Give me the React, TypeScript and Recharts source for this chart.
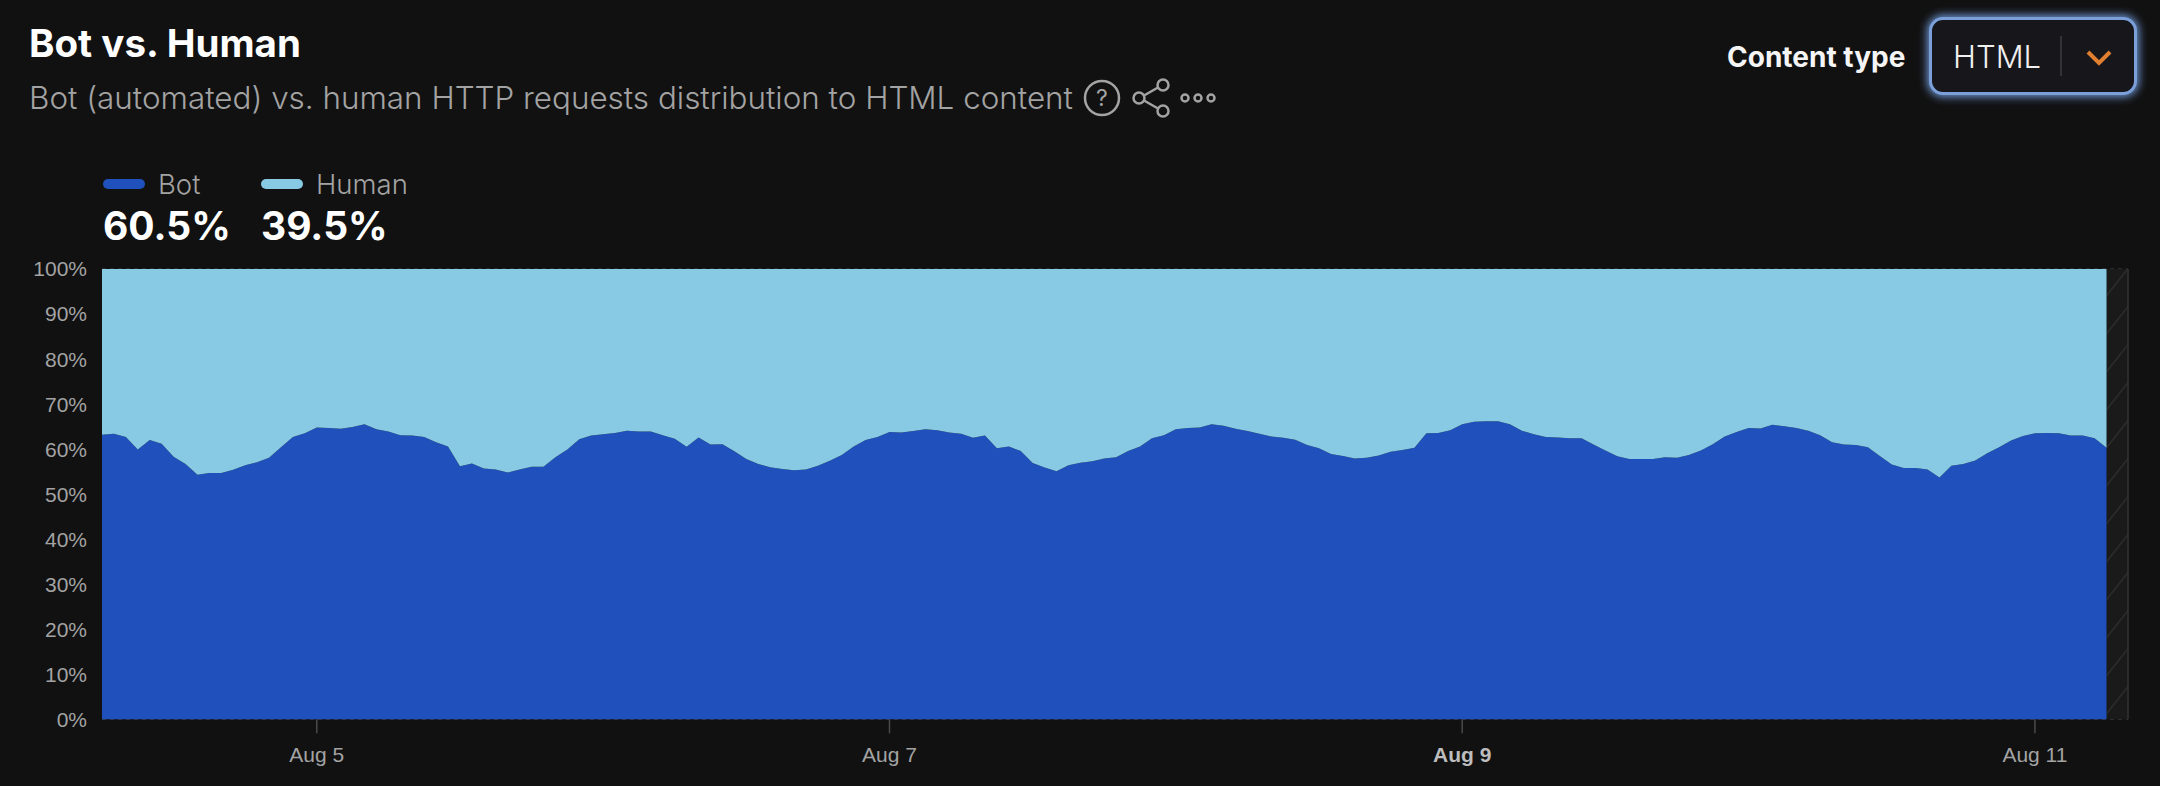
import { AreaChart, Area, XAxis, YAxis, CartesianGrid, ReferenceArea, ReferenceLine } from "recharts";

// hourly samples, first one is Aug 4 06:00
const botValues = [
  63.2, 63.4, 62.7, 59.9, 62.0, 61.2, 58.3, 56.7, 54.3, 54.7,
  54.7, 55.4, 56.4, 57.1, 58.1, 60.4, 62.7, 63.5, 64.8, 64.7,
  64.5, 64.9, 65.5, 64.4, 63.9, 63.1, 63.0, 62.7, 61.5, 60.6,
  56.2, 56.8, 55.7, 55.5, 54.8, 55.5, 56.1, 56.1, 58.2, 59.9,
  62.2, 63.0, 63.3, 63.6, 64.1, 63.9, 63.9, 63.1, 62.3, 60.5,
  62.6, 61.0, 61.1, 59.5, 57.8, 56.7, 56.0, 55.6, 55.3, 55.5,
  56.3, 57.4, 58.7, 60.6, 62.0, 62.7, 63.8, 63.7, 64.0, 64.4,
  64.2, 63.7, 63.4, 62.5, 63.0, 60.2, 60.6, 59.6, 56.9, 55.9,
  55.1, 56.4, 57.0, 57.3, 57.9, 58.2, 59.6, 60.6, 62.4, 63.1,
  64.4, 64.7, 64.8, 65.5, 65.2, 64.5, 64.0, 63.4, 62.8, 62.5,
  62.1, 60.9, 60.2, 58.9, 58.5, 57.9, 58.1, 58.6, 59.4, 59.8,
  60.3, 63.5, 63.6, 64.2, 65.5, 66.1, 66.2, 66.2, 65.5, 64.1,
  63.3, 62.7, 62.6, 62.4, 62.4, 61.0, 59.7, 58.4, 57.8, 57.8,
  57.8, 58.2, 58.1, 58.7, 59.7, 61.1, 62.8, 63.8, 64.7, 64.6,
  65.4, 65.1, 64.7, 64.1, 63.1, 61.5, 61.0, 60.9, 60.4, 58.5,
  56.6, 55.8, 55.8, 55.5, 53.7, 56.3, 56.7, 57.5, 59.1, 60.4,
  61.9, 62.9, 63.5, 63.6, 63.5, 63.0, 63.0, 62.4, 60.3,
];

const humanValues = [
  36.8, 36.6, 37.3, 40.1, 38.0, 38.8, 41.7, 43.3, 45.7, 45.3,
  45.3, 44.6, 43.6, 42.9, 41.9, 39.6, 37.3, 36.5, 35.2, 35.3,
  35.5, 35.1, 34.5, 35.6, 36.1, 36.9, 37.0, 37.3, 38.5, 39.4,
  43.8, 43.2, 44.3, 44.5, 45.2, 44.5, 43.9, 43.9, 41.8, 40.1,
  37.8, 37.0, 36.7, 36.4, 35.9, 36.1, 36.1, 36.9, 37.7, 39.5,
  37.4, 39.0, 38.9, 40.5, 42.2, 43.3, 44.0, 44.4, 44.7, 44.5,
  43.7, 42.6, 41.3, 39.4, 38.0, 37.3, 36.2, 36.3, 36.0, 35.6,
  35.8, 36.3, 36.6, 37.5, 37.0, 39.8, 39.4, 40.4, 43.1, 44.1,
  44.9, 43.6, 43.0, 42.7, 42.1, 41.8, 40.4, 39.4, 37.6, 36.9,
  35.6, 35.3, 35.2, 34.5, 34.8, 35.5, 36.0, 36.6, 37.2, 37.5,
  37.9, 39.1, 39.8, 41.1, 41.5, 42.1, 41.9, 41.4, 40.6, 40.2,
  39.7, 36.5, 36.4, 35.8, 34.5, 33.9, 33.8, 33.8, 34.5, 35.9,
  36.7, 37.3, 37.4, 37.6, 37.6, 39.0, 40.3, 41.6, 42.2, 42.2,
  42.2, 41.8, 41.9, 41.3, 40.3, 38.9, 37.2, 36.2, 35.3, 35.4,
  34.6, 34.9, 35.3, 35.9, 36.9, 38.5, 39.0, 39.1, 39.6, 41.5,
  43.4, 44.2, 44.2, 44.5, 46.3, 43.7, 43.3, 42.5, 40.9, 39.6,
  38.1, 37.1, 36.5, 36.4, 36.5, 37.0, 37.0, 37.6, 39.7,
];

const xTicks = [18, 66, 114, 162];
const xTickLabels = ["Aug 5", "Aug 7", "Aug 9", "Aug 11"];
const boldTick = 114;
const yTicks = [0, 10, 20, 30, 40, 50, 60, 70, 80, 90, 100];
const lastSample = 168;
const domainEnd = 169.8;

const chartData = botValues.map((bot, i) => ({ hour: i, bot, human: humanValues[i] }));

const FONT = "Inter, 'Noto Sans', sans-serif";
const AXIS_FONT = "'Liberation Sans', Arial, sans-serif";
const BOT = "#2050bc";
const HUMAN = "#88cae4";
const MUTED = "#a3a3a3";

const abs = (left: number, top: number, style: object = {}) => ({
  position: "absolute" as const,
  left,
  top,
  whiteSpace: "nowrap" as const,
  ...style,
});

const XTick = ({ x, y, payload }: any) => (
  <text
    x={x}
    y={y}
    textAnchor="middle"
    dominantBaseline="central"
    fontFamily={AXIS_FONT}
    fontSize={21}
    fontWeight={payload.value === boldTick ? 700 : 400}
    fill={payload.value === boldTick ? "#bdbdbd" : MUTED}
  >
    {xTickLabels[xTicks.indexOf(payload.value)]}
  </text>
);

const LegendItem = ({ left, color, name, value }: { left: number; color: string; name: string; value: string }) => (
  <>
    <div style={abs(left, 179, { width: 42, height: 10, borderRadius: 5, background: color })} />
    <div style={abs(left + 55, 167, { fontSize: 27.5, lineHeight: "34px", color: MUTED, fontWeight: 300 })}>{name}</div>
    <div style={abs(left, 203, { fontSize: 39, lineHeight: "46px", color: "#fff", fontWeight: 700 })}>{value}</div>
  </>
);

const Icons = () => (
  <svg style={abs(1080, 76)} width={140} height={44} fill="none" stroke="#a3a3a3" strokeWidth={2.5}>
    <circle cx={22} cy={22} r={17} />
    <text x={22} y={30} textAnchor="middle" fontFamily={FONT} fontSize={23} fill="#a3a3a3" stroke="none">?</text>
    <circle cx={59} cy={22} r={5.5} />
    <circle cx={83} cy={9} r={5.5} />
    <circle cx={83} cy={35} r={5.5} />
    <line x1={64} y1={19.5} x2={78} y2={11.5} />
    <line x1={64} y1={24.5} x2={78} y2={32.5} />
    <circle cx={105} cy={22} r={3.5} />
    <circle cx={118} cy={22} r={3.5} />
    <circle cx={131} cy={22} r={3.5} />
  </svg>
);

export default function App() {
  return (
    <div style={abs(0, 0, { width: 2160, height: 786, background: "#111111", overflow: "hidden", fontFamily: FONT })}>
      <div style={abs(29, 18, { fontSize: 38.5, lineHeight: "50px", fontWeight: 700, color: "#fff" })}>Bot vs. Human</div>
      <div style={abs(29, 76, { fontSize: 31.4, lineHeight: "44px", fontWeight: 300, color: MUTED })}>
        Bot (automated) vs. human HTTP requests distribution to HTML content
      </div>
      <Icons />

      <div style={abs(1727, 38, { fontSize: 28, lineHeight: "38px", fontWeight: 700, color: "#f5f5f5" })}>Content type</div>
      <div
        style={abs(1929, 17, {
          width: 208,
          height: 78,
          boxSizing: "border-box",
          borderRadius: 14,
          background: "#17171b",
          border: "3px solid #7a9fd9",
          boxShadow: "0 0 8px 2px #6f96d4",
        })}
      />
      <div style={abs(1953, 36, { fontSize: 31, lineHeight: "42px", fontWeight: 300, color: "#f0f0f0" })}>HTML</div>
      <div style={abs(2060, 36, { width: 1.5, height: 40, background: "#333" })} />
      <svg style={abs(2085, 48)} width={28} height={20} fill="none" stroke="#e07f30" strokeWidth={4}>
        <polyline points="3,4 14,15 25,4" />
      </svg>

      <LegendItem left={103} color={BOT} name="Bot" value="60.5%" />
      <LegendItem left={261} color={HUMAN} name="Human" value="39.5%" />

      <AreaChart
        style={abs(0, 0)}
        width={2160}
        height={786}
        data={chartData}
        margin={{ top: 269, right: 32, bottom: 26.7, left: 42 }}
      >
        <defs>
          <pattern id="noData" width={30} height={38} patternUnits="userSpaceOnUse">
            <rect width={30} height={38} fill="#1a1a1a" />
            <line x1={0} y1={38} x2={30} y2={0} stroke="#2b2b2b" strokeWidth={1.5} />
          </pattern>
        </defs>
        <ReferenceArea x1={lastSample} x2={domainEnd} y1={0} y2={100} fill="url(#noData)" fillOpacity={1} stroke="none" />
        <CartesianGrid horizontal vertical={false} stroke="#333333" strokeWidth={1.5} strokeDasharray="4 4" />
        <XAxis
          dataKey="hour"
          type="number"
          domain={[0, domainEnd]}
          ticks={xTicks}
          height={40}
          axisLine={false}
          tickSize={14}
          tickLine={{ stroke: "#4a4a4a", strokeWidth: 1.5 }}
          tickMargin={21}
          interval={0}
          tick={<XTick />}
        />
        <YAxis
          type="number"
          domain={[0, 100]}
          ticks={yTicks}
          width={60}
          axisLine={false}
          tickLine={false}
          tickMargin={9}
          tickFormatter={(v: number) => `${v}%`}
          tick={{ fill: MUTED, fontSize: 21, fontFamily: AXIS_FONT }}
          interval={0}
        />
        <ReferenceLine x={domainEnd} stroke="#333333" strokeWidth={1.5} />
        <Area type="linear" dataKey="bot" stackId="share" stroke="none" fill={BOT} fillOpacity={1} isAnimationActive={false} dot={false} activeDot={false} />
        <Area type="linear" dataKey="human" stackId="share" stroke="none" fill={HUMAN} fillOpacity={1} isAnimationActive={false} dot={false} activeDot={false} />
      </AreaChart>
    </div>
  );
}
